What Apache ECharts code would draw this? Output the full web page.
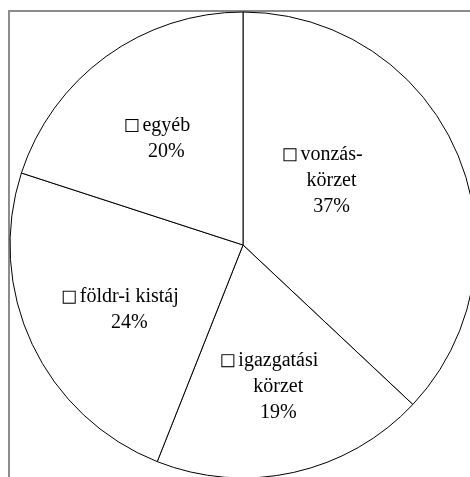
<!DOCTYPE html>
<html>
<head>
<meta charset="utf-8">
<style>
  html, body { margin: 0; padding: 0; background: #fff; }
  #main { width: 470px; height: 477px; }
</style>
<script src="https://cdn.jsdelivr.net/npm/echarts@6/dist/echarts.min.js"></script>
</head>
<body>
<div id="main"></div>
<script>
// slices, clockwise from 12 o'clock
const categories = ['vonzás-körzet', 'igazgatási körzet', 'földr-i kistáj', 'egyéb'];
const labelLines = [['vonzás-', 'körzet'], ['igazgatási', 'körzet'], ['földr-i kistáj'], ['egyéb']];
const shares = [37, 19, 24, 20];

const chartDom = document.getElementById('main');
const myChart = echarts.init(chartDom, null, { renderer: 'canvas' });

const center = [243, 245];
const R = 233;
// small nudges so the labels sit where the original put them
const labelNudge = [[-39, -9], [5, 6], [12, 6], [5, 6]];

const labelFormatter = (params) => {
    const lines = labelLines[params.dataIndex];
    let out = '{sq|}{gap|}{t|' + lines[0] + '}{pad|}';
    for (let i = 1; i < lines.length; i++) {
        out += '\n{t|' + lines[i] + '}';
    }
    return out + '\n{t|' + params.value + '%}';
};

const option = {
    backgroundColor: '#fff',
    animation: false,
    graphic: [
        {
            type: 'rect',
            z: -10,
            shape: { x: 9, y: 11, width: 600, height: 600 },
            style: { fill: 'none', stroke: '#8c8c8c', lineWidth: 2 }
        }
    ],
    series: [
        {
            // the visible pie
            name: 'pie',
            type: 'pie',
            center: center,
            radius: R,
            startAngle: 90,
            clockwise: true,
            silent: true,
            data: categories.map((c, i) => ({ name: c, value: shares[i] })),
            itemStyle: { color: '#fff', borderColor: '#000', borderWidth: 1 },
            label: { show: false },
            labelLine: { show: false }
        },
        {
            // label ring only, puts labels a bit further out than the default
            name: 'labels',
            type: 'pie',
            center: center,
            radius: [96, 176],
            startAngle: 90,
            clockwise: true,
            silent: true,
            data: categories.map((c, i) => ({
                name: c,
                value: shares[i],
                label: { offset: labelNudge[i] }
            })),
            itemStyle: { color: 'rgba(0,0,0,0)', borderWidth: 0 },
            labelLine: { show: false },
            label: {
                show: true,
                position: 'inside',
                formatter: labelFormatter,
                align: 'center',
                rich: {
                    t: {
                        fontFamily: 'Liberation Serif',
                        fontSize: 20,
                        lineHeight: 26,
                        color: '#000'
                    },
                    sq: {
                        width: 11,
                        height: 11,
                        borderColor: '#000',
                        borderWidth: 1,
                        backgroundColor: '#fff'
                    },
                    gap: { width: 5, height: 11 },
                    pad: { width: 16, height: 11 }
                }
            }
        }
    ]
};

myChart.setOption(option);
</script>
</body>
</html>
